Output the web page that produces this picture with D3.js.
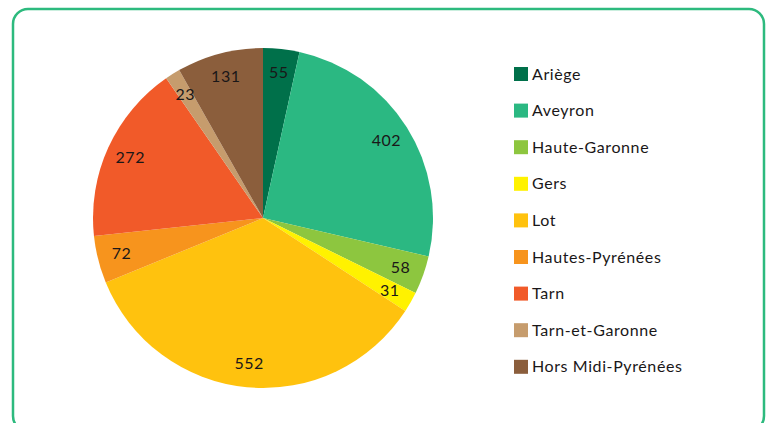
<!DOCTYPE html>
<html>
<head>
<meta charset="utf-8">
<script src="https://cdn.jsdelivr.net/npm/d3@7"></script>
<style>
  body { margin: 0; background: #fff; }
  text { font-family: Lato, "Open Sans", sans-serif; fill: #1a1718; }
</style>
</head>
<body>
<svg width="766" height="423"></svg>
<script>
var departements = ["Ariège", "Aveyron", "Haute-Garonne", "Gers", "Lot",
  "Hautes-Pyrénées", "Tarn", "Tarn-et-Garonne", "Hors Midi-Pyrénées"];
var effectifs = [55, 402, 58, 31, 552, 72, 272, 23, 131];
var couleurs = ["#00704a", "#2bb882", "#8dc63f", "#fff200", "#ffc20e",
  "#f7941d", "#f15a29", "#c69c6d", "#8b5e3c"];

var svg = d3.select("svg");

// cadre vert arrondi (coupé en bas)
svg.append("rect")
  .attr("x", 13).attr("y", 9)
  .attr("width", 751).attr("height", 422)
  .attr("rx", 15)
  .attr("fill", "none")
  .attr("stroke", "#2dba7e")
  .attr("stroke-width", 2.5);

var color = d3.scaleOrdinal().domain(departements).range(couleurs);

var data = departements.map(function(d, i) { return {name: d, value: effectifs[i]}; });

var pie = d3.pie().sort(null).value(function(d) { return d.value; });
var radius = 170;
var arc = d3.arc().innerRadius(0).outerRadius(radius);
var labelArc = d3.arc().innerRadius(146).outerRadius(146);

var g = svg.append("g").attr("transform", "translate(263,218)");

var arcs = pie(data);

g.selectAll("path")
  .data(arcs)
  .enter().append("path")
  .attr("d", arc)
  .attr("fill", function(d) { return color(d.data.name); });

g.selectAll(".lbl")
  .data(arcs)
  .enter().append("text")
  .attr("class", "lbl")
  .attr("transform", function(d) { return "translate(" + labelArc.centroid(d) + ")"; })
  .attr("text-anchor", "middle")
  .attr("dy", "0.35em")
  .style("font-size", "16px")
  .style("letter-spacing", "0.5px")
  .text(function(d) { return d.data.value; });

// légende
var legend = svg.append("g").attr("transform", "translate(514,74)");
var row = legend.selectAll("g")
  .data(departements)
  .enter().append("g")
  .attr("transform", function(d, i) { return "translate(0," + (i * 36.6) + ")"; });

row.append("rect")
  .attr("x", 0).attr("y", -7)
  .attr("width", 14).attr("height", 14)
  .attr("fill", function(d) { return color(d); });

row.append("text")
  .attr("x", 18)
  .attr("dy", "0.35em")
  .style("font-size", "16px")
  .style("letter-spacing", "0.6px")
  .text(function(d) { return d; });
</script>
</body>
</html>
